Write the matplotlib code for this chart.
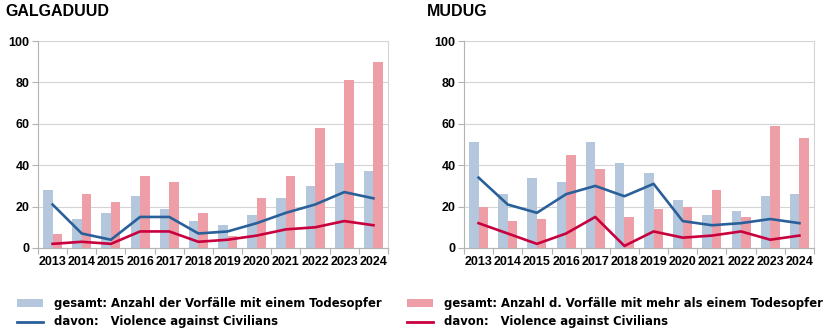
import matplotlib
matplotlib.use("Agg")
import matplotlib.pyplot as plt
import numpy as np
from matplotlib import font_manager

years = ["2013", "2014", "2015", "2016", "2017", "2018", "2019", "2020", "2021", "2022", "2023", "2024"]

# GALGADUUD
galg_single = [28, 14, 17, 25, 19, 13, 11, 16, 24, 30, 41, 37]
galg_multi = [7, 26, 22, 35, 32, 17, 6, 24, 35, 58, 81, 90]
galg_single_vac = [21, 7, 4, 15, 15, 7, 8, 12, 17, 21, 27, 24]
galg_multi_vac = [2, 3, 2, 8, 8, 3, 4, 6, 9, 10, 13, 11]

# MUDUG
mudug_single = [51, 26, 34, 32, 51, 41, 36, 23, 16, 18, 25, 26]
mudug_multi = [20, 13, 14, 45, 38, 15, 19, 20, 28, 15, 59, 53]
mudug_single_vac = [34, 21, 17, 26, 30, 25, 31, 13, 11, 12, 14, 12]
mudug_multi_vac = [12, 7, 2, 7, 15, 1, 8, 5, 6, 8, 4, 6]

C_SINGLE = "#b4c7dc"
C_MULTI = "#ee9ea7"
C_SINGLE_LINE = "#2a6099"
C_MULTI_LINE = "#c9003e"
GRID = "#d4d4d4"

W, H = 828, 331
fig = plt.figure(figsize=(W / 100, H / 100), dpi=100)

tick_font = dict(family="Liberation Sans", weight="bold", size=9)

# pick a condensed face for the legend if one is available
names = {f.name for f in font_manager.fontManager.ttflist}
cond = [f for f in font_manager.fontManager.ttflist
        if f.name == "DejaVu Sans" and f.stretch == "condensed" and f.weight in ("bold", 700)]
if "Liberation Sans Narrow" in names:
    legend_font = dict(family="Liberation Sans Narrow", weight="bold", size=10)
elif cond:
    legend_font = dict(fontproperties=font_manager.FontProperties(fname=cond[0].fname, size=9.3))
else:
    legend_font = dict(family="Liberation Sans", weight="bold", size=8)


def panel(left, right, title, title_x, single, multi, s_vac, m_vac):
    ax = fig.add_axes([left / W, 1 - 248 / H, (right - left) / W, (248 - 41) / H])
    x = np.arange(len(years))
    bw = 0.325
    ax.bar(x - bw / 2, single, width=bw, color=C_SINGLE, zorder=2)
    ax.bar(x + bw / 2, multi, width=bw, color=C_MULTI, zorder=2)
    ax.plot(x, s_vac, color=C_SINGLE_LINE, lw=1.9, zorder=3, solid_joinstyle="round")
    ax.plot(x, m_vac, color=C_MULTI_LINE, lw=1.9, zorder=3, solid_joinstyle="round")
    ax.set_xlim(-0.5, len(years) - 0.5)
    ax.set_ylim(0, 100)
    ax.set_yticks([0, 20, 40, 60, 80, 100])
    ax.set_yticklabels(["0", "20", "40", "60", "80", "100"], **tick_font)
    ax.set_xticks(x)
    ax.set_xticklabels(years, **tick_font)
    ax.set_xticks(np.arange(-0.5, len(years)), minor=True)
    ax.tick_params(axis="x", which="major", length=0, pad=6)
    ax.tick_params(axis="x", which="minor", length=4, color="#b3b3b3", width=0.8)
    ax.tick_params(axis="y", length=4, color="#b3b3b3", width=0.8, pad=2)
    ax.yaxis.grid(True, color=GRID, lw=0.8, zorder=0)
    ax.set_axisbelow(True)
    for side in ["left", "bottom", "right"]:
        ax.spines[side].set_color("#b3b3b3")
        ax.spines[side].set_linewidth(0.8)
    ax.spines["right"].set_color(GRID)
    ax.spines["top"].set_visible(False)
    fig.text(title_x / W, 1 - 11 / H, title, family="Liberation Sans", weight="bold",
             size=11.5, ha="left", va="center")
    return ax


panel(38, 388, "GALGADUUD", 5, galg_single, galg_multi, galg_single_vac, galg_multi_vac)
panel(464, 814, "MUDUG", 427, mudug_single, mudug_multi, mudug_single_vac, mudug_multi_vac)


def legend_block(x0, bar_color, line_color, label_bar, label_line):
    ax = fig.add_axes([0, 0, 1, 1], facecolor="none")
    ax.set_xlim(0, W)
    ax.set_ylim(H, 0)
    ax.axis("off")
    ax.add_patch(plt.Rectangle((x0, 299), 26, 8, color=bar_color, lw=0))
    ax.plot([x0, x0 + 26], [322, 322], color=line_color, lw=2)
    ax.text(x0 + 37, 303, label_bar, va="center", ha="left", **legend_font)
    ax.text(x0 + 37, 321, label_line, va="center", ha="left", **legend_font)


legend_block(17, C_SINGLE, C_SINGLE_LINE,
             "gesamt: Anzahl der Vorfälle mit einem Todesopfer",
             "davon:   Violence against Civilians")
legend_block(407, C_MULTI, C_MULTI_LINE,
             "gesamt: Anzahl d. Vorfälle mit mehr als einem Todesopfer",
             "davon:   Violence against Civilians")

fig.savefig("out.png", dpi=100)
